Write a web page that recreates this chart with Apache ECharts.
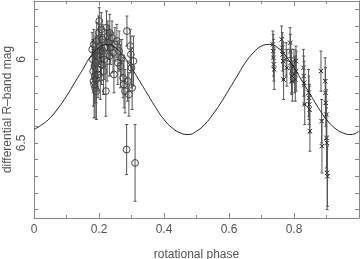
<!DOCTYPE html>
<html>
<head>
<meta charset="utf-8">
<script src="https://cdn.jsdelivr.net/npm/echarts@6/dist/echarts.min.js"></script>
<style>
  html, body { margin: 0; padding: 0; background: #fff; }
  #chart { width: 360px; height: 259px; }
</style>
</head>
<body>
<div id="chart"></div>
<script>
// circles: first night
var circPhase = [0.179, 0.181, 0.182, 0.183, 0.184, 0.186, 0.187, 0.188, 0.189, 0.190, 0.191, 0.192, 0.193, 0.195,
  0.199, 0.201, 0.202, 0.204, 0.205, 0.207, 0.208, 0.210, 0.212, 0.214, 0.216,
  0.221, 0.223, 0.225, 0.227, 0.230, 0.233, 0.236, 0.240, 0.243, 0.246, 0.249,
  0.262, 0.266, 0.270, 0.274, 0.277, 0.280, 0.286, 0.285, 0.288, 0.292, 0.296, 0.298, 0.300, 0.302, 0.306, 0.311,
  0.185, 0.194, 0.197, 0.218, 0.232, 0.255, 0.258];
var circMag = [5.94, 6.00, 6.07, 6.13, 5.91, 6.04, 6.10, 6.17, 5.96, 6.02, 6.12, 6.19, 5.89, 6.06,
  5.84, 5.77, 5.92, 6.11, 5.97, 5.82, 6.03, 5.88, 5.95, 6.07, 6.00,
  6.19, 5.81, 6.01, 5.86, 5.90, 5.84, 5.93, 5.87, 5.96, 6.09, 5.91,
  5.95, 6.04, 5.99, 6.11, 6.15, 6.19, 5.83, 6.54, 6.13, 6.21, 5.92, 5.97, 6.05, 6.17, 6.01, 6.62,
  6.15, 5.98, 6.09, 5.93, 5.98, 5.89, 6.02];
var circErr = [0.10, 0.12, 0.13, 0.15, 0.09, 0.11, 0.16, 0.18, 0.10, 0.12, 0.14, 0.17, 0.11, 0.13,
  0.10, 0.08, 0.11, 0.13, 0.12, 0.10, 0.12, 0.09, 0.10, 0.14, 0.12,
  0.15, 0.10, 0.12, 0.09, 0.10, 0.11, 0.10, 0.10, 0.12, 0.11, 0.10,
  0.12, 0.13, 0.11, 0.12, 0.14, 0.13, 0.09, 0.15, 0.12, 0.13, 0.10, 0.11, 0.12, 0.13, 0.15, 0.23,
  0.20, 0.12, 0.14, 0.11, 0.12, 0.10, 0.13];

// crosses: second night
var crossPhase = [0.735, 0.736, 0.737, 0.738, 0.739, 0.762, 0.764, 0.765, 0.767, 0.768, 0.776, 0.778,
  0.788, 0.789, 0.790, 0.792, 0.793, 0.795, 0.800, 0.802, 0.804, 0.806, 0.807,
  0.829, 0.830, 0.831, 0.833, 0.845, 0.846, 0.847, 0.848, 0.849,
  0.883, 0.885, 0.886, 0.896, 0.897, 0.898, 0.899, 0.900, 0.901, 0.902, 0.903];
var crossMag = [5.91, 5.95, 5.99, 6.03, 6.06, 5.88, 5.93, 5.97, 6.01, 6.12, 6.00, 6.05,
  5.90, 5.95, 6.02, 6.07, 6.10, 6.13, 6.04, 6.09, 6.12, 6.01, 6.07,
  6.05, 6.10, 6.14, 6.27, 6.20, 6.23, 6.27, 6.30, 6.43,
  6.07, 6.37, 6.52, 6.13, 6.20, 6.26, 6.33, 6.47, 6.50, 6.68, 6.70];
var crossErr = [0.08, 0.10, 0.11, 0.10, 0.12, 0.08, 0.09, 0.10, 0.11, 0.12, 0.10, 0.11,
  0.09, 0.10, 0.12, 0.13, 0.11, 0.12, 0.10, 0.11, 0.13, 0.09, 0.12,
  0.11, 0.12, 0.13, 0.12, 0.14, 0.13, 0.12, 0.14, 0.12,
  0.12, 0.13, 0.16, 0.14, 0.15, 0.14, 0.15, 0.18, 0.17, 0.22, 0.18];

// model light curve
var modelPhase = [0, 0.025, 0.05, 0.075, 0.1, 0.125, 0.15, 0.175, 0.2, 0.225, 0.25, 0.275, 0.3, 0.325,
  0.35, 0.375, 0.4, 0.425, 0.45, 0.475, 0.5, 0.525, 0.55, 0.575, 0.6, 0.625, 0.65, 0.675,
  0.7, 0.725, 0.75, 0.775, 0.8, 0.825, 0.85, 0.875, 0.9, 0.925, 0.95, 0.975, 1];
var modelMag = [6.42, 6.39, 6.35, 6.29, 6.22, 6.14, 6.06, 5.98, 5.93, 5.91, 5.93, 5.98, 6.05, 6.13,
  6.21, 6.29, 6.36, 6.41, 6.44, 6.45, 6.43, 6.39, 6.33, 6.26, 6.18, 6.10, 6.02, 5.96,
  5.92, 5.91, 5.93, 5.98, 6.05, 6.13, 6.21, 6.29, 6.36, 6.41, 6.44, 6.45, 6.43];

var yTicks = [5.7, 5.8, 5.9, 6, 6.1, 6.2, 6.3, 6.4, 6.5, 6.6, 6.7, 6.8, 6.9];
var yLabels = [6, 6.5];

var FONT = 'Liberation Sans';
var TXT = '#555';
var AX = '#888';

function zip3(a, b, c) {
  return a.map(function (v, i) { return [v, b[i], c[i]]; });
}

function errRender(kind) {
  return function (params, api) {
    var x = api.value(0), m = api.value(1), e = api.value(2);
    var top = api.coord([x, m - e]);
    var bot = api.coord([x, m + e]);
    var c = api.coord([x, m]);
    var bar = { stroke: '#555', lineWidth: 1 };
    var kids = [
      { type: 'line', shape: { x1: top[0], y1: top[1], x2: bot[0], y2: bot[1] }, style: bar },
      { type: 'line', shape: { x1: top[0] - 1.5, y1: top[1], x2: top[0] + 1.5, y2: top[1] }, style: bar },
      { type: 'line', shape: { x1: bot[0] - 1.5, y1: bot[1], x2: bot[0] + 1.5, y2: bot[1] }, style: bar }
    ];
    if (kind === 'circle') {
      kids.push({ type: 'circle', shape: { cx: c[0], cy: c[1], r: 3.4 },
        style: { fill: null, stroke: '#333', lineWidth: 0.9 } });
    } else {
      var s = 2.2;
      kids.push({ type: 'line', shape: { x1: c[0] - s, y1: c[1] - s, x2: c[0] + s, y2: c[1] + s },
        style: { stroke: '#222', lineWidth: 1 } });
      kids.push({ type: 'line', shape: { x1: c[0] - s, y1: c[1] + s, x2: c[0] + s, y2: c[1] - s },
        style: { stroke: '#222', lineWidth: 1 } });
    }
    return { type: 'group', children: kids };
  };
}

function xAx(pos, labels) {
  return {
    type: 'value', position: pos, min: 0, max: 1, interval: 0.2,
    axisLine: { show: true, onZero: false, lineStyle: { color: AX, width: 1 } },
    axisTick: { show: true, inside: true, length: 5, lineStyle: { color: AX } },
    minorTick: { show: true, splitNumber: 2, length: 3, lineStyle: { color: AX } },
    splitLine: { show: false },
    axisLabel: { show: labels, showMaxLabel: false, margin: 6, color: TXT, fontFamily: FONT, fontSize: 12 },
    name: labels ? 'rotational phase' : '',
    nameLocation: 'middle', nameGap: 31, nameMoveOverlap: false,
    nameTextStyle: { color: TXT, fontFamily: FONT, fontSize: 12 }
  };
}

function yAx(pos, labels) {
  return {
    type: 'value', position: pos, inverse: true, min: 5.65, max: 6.95,
    axisLine: { show: true, onZero: false, lineStyle: { color: AX, width: 1 } },
    axisTick: { show: true, inside: true, length: 4, customValues: yTicks, lineStyle: { color: AX } },
    splitLine: { show: false },
    axisLabel: { show: labels, customValues: yLabels, rotate: 90, margin: 6,
      color: TXT, fontFamily: FONT, fontSize: 12 },
    name: labels ? 'differential R\u2013band mag' : '',
    nameLocation: 'middle', nameGap: 20, nameMoveOverlap: false,
    nameTextStyle: { color: TXT, fontFamily: FONT, fontSize: 12 }
  };
}

var chart = echarts.init(document.getElementById('chart'), null, { renderer: 'canvas' });
chart.setOption({
  animation: false,
  backgroundColor: '#fff',
  grid: { left: 34, right: 1, top: 1, bottom: 41, containLabel: false, outerBoundsMode: 'none' },
  xAxis: [xAx('bottom', true), xAx('top', false)],
  yAxis: [yAx('left', true), yAx('right', false)],
  series: [
    {
      type: 'line', smooth: true, showSymbol: false, silent: true,
      data: modelPhase.map(function (p, i) { return [p, modelMag[i]]; }),
      lineStyle: { color: '#222', width: 1 }
    },
    {
      type: 'custom', renderItem: errRender('circle'),
      data: zip3(circPhase, circMag, circErr)
    },
    {
      type: 'custom', renderItem: errRender('cross'),
      data: zip3(crossPhase, crossMag, crossErr)
    }
  ]
});
</script>
</body>
</html>
